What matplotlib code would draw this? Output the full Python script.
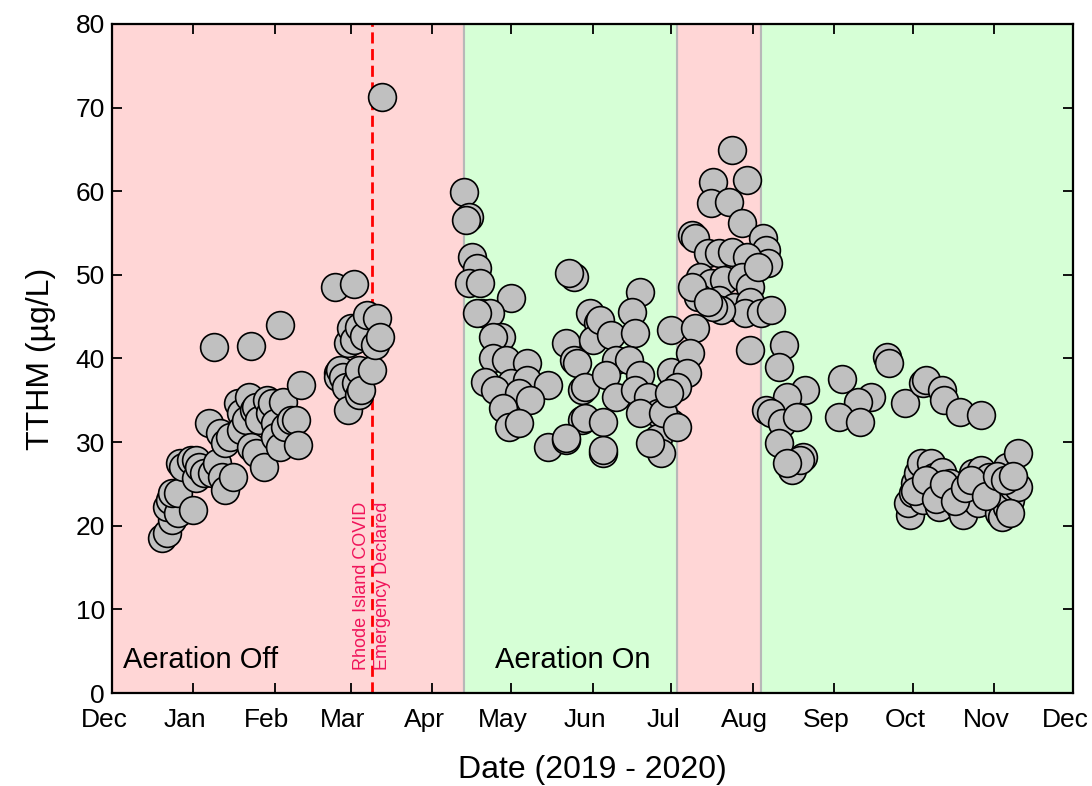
import matplotlib
matplotlib.use("Agg")
import matplotlib.pyplot as plt
import matplotlib.dates as mdates
import matplotlib.transforms as mtransforms
import pandas as pd

plt.rcParams["font.family"] = ["Liberation Sans", "DejaVu Sans"]

# TTHM samples (date, ug/L)
sample_dates = [
    # aeration off, Dec - Feb
    "2019-12-20", "2019-12-22", "2019-12-24", "2019-12-22", "2019-12-23", "2019-12-26",
    "2019-12-24", "2019-12-26", "2019-12-27", "2019-12-28", "2019-12-31", "2020-01-01",
    "2020-01-02", "2020-01-02", "2020-01-03", "2020-01-05", "2020-01-07", "2020-01-08",
    "2020-01-09", "2020-01-10", "2020-01-11", "2020-01-12", "2020-01-13", "2020-01-13",
    "2020-01-15", "2020-01-16", "2020-01-18", "2020-01-19", "2020-01-19", "2020-01-21",
    "2020-01-22", "2020-01-23", "2020-01-23", "2020-01-24", "2020-01-25", "2020-01-25",
    "2020-01-26", "2020-01-28", "2020-01-29", "2020-01-30", "2020-01-31", "2020-02-01",
    "2020-02-01", "2020-02-03", "2020-02-03", "2020-02-04", "2020-02-05", "2020-02-07",
    "2020-02-09", "2020-02-10", "2020-02-11",
    # late Feb - Mar
    "2020-02-24", "2020-02-25", "2020-02-25", "2020-02-26", "2020-02-27", "2020-02-28",
    "2020-02-29", "2020-02-29", "2020-03-01", "2020-03-02", "2020-03-02", "2020-03-03",
    "2020-03-04", "2020-03-04", "2020-03-04", "2020-03-05", "2020-03-06", "2020-03-07",
    "2020-03-09", "2020-03-10", "2020-03-11", "2020-03-12", "2020-03-13",
    # aeration on, Apr - Jul
    "2020-04-13", "2020-04-15", "2020-04-14", "2020-04-16", "2020-04-18", "2020-04-15",
    "2020-04-19", "2020-05-01", "2020-04-20", "2020-04-23", "2020-04-18", "2020-04-27",
    "2020-04-24", "2020-04-24", "2020-04-29", "2020-05-07", "2020-04-21", "2020-05-01",
    "2020-05-07", "2020-05-15", "2020-04-25", "2020-05-04", "2020-05-08", "2020-04-28",
    "2020-04-30", "2020-05-04", "2020-05-15", "2020-05-22", "2020-05-22", "2020-05-25",
    "2020-05-23", "2020-05-31", "2020-06-03", "2020-06-01", "2020-05-25", "2020-05-28",
    "2020-05-28", "2020-06-05", "2020-06-19", "2020-06-16", "2020-06-04", "2020-06-08",
    "2020-06-17", "2020-07-01", "2020-06-10", "2020-06-15", "2020-06-19", "2020-07-01",
    "2020-05-26", "2020-05-29", "2020-06-06", "2020-06-10", "2020-06-17", "2020-06-22",
    "2020-06-26", "2020-07-01", "2020-06-19", "2020-05-29", "2020-06-05", "2020-05-22",
    "2020-06-05", "2020-06-26", "2020-06-27", "2020-06-23", "2020-06-28",
    # aeration off, Jul - Aug
    "2020-07-24", "2020-07-17", "2020-07-30", "2020-07-16", "2020-07-23", "2020-07-28",
    "2020-07-09", "2020-07-10", "2020-08-05", "2020-08-06", "2020-08-07", "2020-07-15",
    "2020-07-19", "2020-07-24", "2020-07-30", "2020-07-12", "2020-07-16", "2020-07-21",
    "2020-07-28", "2020-07-31", "2020-07-11", "2020-07-19", "2020-07-25", "2020-07-31",
    "2020-07-29", "2020-08-04", "2020-08-08", "2020-07-20", "2020-07-17", "2020-07-10",
    "2020-07-08", "2020-07-31", "2020-08-03", "2020-07-09", "2020-07-15",
    # aeration on, Aug - Nov
    "2020-08-13", "2020-08-11", "2020-07-07", "2020-07-03", "2020-06-30", "2020-07-03",
    "2020-08-21", "2020-08-14", "2020-08-06", "2020-08-08", "2020-08-12", "2020-08-18",
    "2020-08-11", "2020-08-16", "2020-08-20", "2020-08-19", "2020-08-14",
    "2020-09-04", "2020-09-21", "2020-09-22", "2020-09-15", "2020-09-10", "2020-09-03",
    "2020-09-11", "2020-09-28", "2020-10-05", "2020-10-06", "2020-10-12", "2020-10-13",
    "2020-10-19", "2020-10-27",
    "2020-09-30", "2020-09-29", "2020-10-01", "2020-10-02", "2020-10-03", "2020-10-04",
    "2020-10-08", "2020-10-05", "2020-10-07", "2020-10-09", "2020-10-12", "2020-10-11",
    "2020-10-14", "2020-10-16", "2020-10-15", "2020-10-19", "2020-10-20", "2020-10-22",
    "2020-10-24", "2020-10-27", "2020-10-28", "2020-10-26", "2020-10-30", "2020-11-01",
    "2020-11-03", "2020-11-04", "2020-11-06", "2020-11-07", "2020-11-08", "2020-11-06",
    "2020-11-10", "2020-11-10", "2020-11-07", "2020-10-02", "2020-10-06", "2020-10-10",
    "2020-10-13", "2020-10-17", "2020-10-21", "2020-10-23", "2020-10-29", "2020-11-02",
    "2020-11-05", "2020-11-08",
]

tthm = [
    18.5, 19.1, 20.7, 22.2, 23.1, 21.5,
    23.9, 23.9, 27.5, 27.0, 27.9, 21.9,
    27.9, 25.7, 27.0, 26.3, 32.3, 26.3,
    41.4, 27.5, 31.1, 25.8, 29.9, 24.3,
    30.6, 25.8, 34.7, 33.5, 31.5, 32.6,
    35.4, 41.5, 29.4, 33.8, 28.7, 34.2,
    32.6, 27.0, 35.0, 33.5, 34.7, 32.3,
    30.6, 44.0, 29.4, 34.8, 31.8, 32.6,
    32.6, 29.7, 36.8,
    48.6, 38.3, 37.8, 38.6, 37.8, 36.6,
    41.9, 33.8, 43.6, 48.9, 42.2, 37.1,
    43.8, 38.6, 35.6, 36.2, 42.7, 45.2,
    38.6, 41.6, 44.8, 42.6, 71.3,
    59.9, 56.9, 56.6, 52.1, 50.8, 49.0,
    49.0, 47.2, 45.4, 45.4, 45.4, 42.6,
    42.6, 40.0, 39.8, 39.5, 37.2, 37.1,
    37.4, 36.8, 36.2, 35.9, 35.0, 34.1,
    31.8, 32.3, 29.4, 30.2, 41.9, 49.7,
    50.2, 45.4, 44.2, 42.2, 39.8, 36.2,
    32.6, 28.7, 48.0, 45.6, 44.6, 42.8,
    43.0, 43.4, 39.8, 39.8, 38.0, 38.4,
    39.5, 36.6, 38.0, 35.4, 36.2, 35.4,
    33.5, 32.3, 33.5, 32.9, 32.4, 30.5,
    29.0, 30.5, 28.7, 29.9, 33.5,
    64.9, 61.1, 61.3, 58.6, 58.7, 56.2,
    54.8, 54.4, 54.4, 53.0, 51.4, 52.6,
    52.6, 52.7, 52.1, 49.7, 49.0, 49.4,
    49.7, 48.5, 47.4, 47.0, 46.2, 46.8,
    45.4, 45.4, 45.8, 45.8, 46.2, 43.6,
    40.7, 41.0, 51.0, 48.6, 46.8,
    41.6, 39.0, 38.3, 36.6, 35.9, 31.8,
    36.2, 35.4, 33.8, 33.5, 32.3, 33.0,
    29.9, 26.7, 28.2, 27.9, 27.5,
    37.5, 40.2, 39.5, 35.4, 34.8, 33.0,
    32.4, 34.7, 37.1, 37.4, 36.2, 35.0,
    33.6, 33.2,
    21.3, 22.7, 23.9, 25.1, 26.3, 27.5,
    27.5, 23.1, 24.6, 25.8, 26.4, 22.2,
    23.9, 24.6, 25.1, 22.2, 21.3, 23.4,
    26.3, 26.7, 24.6, 22.7, 25.8, 23.9,
    21.5, 21.0, 22.2, 23.1, 24.6, 27.0,
    28.7, 24.6, 21.5, 24.2, 25.5, 23.2,
    25.0, 23.0, 24.5, 25.5, 23.5, 26.0,
    25.5, 26.0,
]

# aeration periods
off_starts = ["2019-12-01", "2020-07-03"]
off_ends = ["2020-04-13", "2020-08-04"]
on_starts = ["2020-04-13", "2020-08-04"]
on_ends = ["2020-07-03", "2020-12-01"]
covid_date = "2020-03-09"

x = pd.to_datetime(sample_dates)

fig = plt.figure(figsize=(10.92, 7.86), dpi=100)
ax = fig.add_axes([0.1026, 0.1183, 0.88, 0.8512])

for s, e in zip(off_starts, off_ends):
    ax.axvspan(pd.Timestamp(s), pd.Timestamp(e), facecolor="#FFD6D6",
               edgecolor="#B8B8B8", lw=1.5, zorder=0)
for s, e in zip(on_starts, on_ends):
    ax.axvspan(pd.Timestamp(s), pd.Timestamp(e), facecolor="#D6FFD6",
               edgecolor="#B8B8B8", lw=1.5, zorder=0)

ax.axvline(pd.Timestamp(covid_date), color="#FF0000", lw=2, ls=(0, (4, 2)), zorder=1)
ax.text(pd.Timestamp(covid_date), 2.7, "Rhode Island COVID\nEmergency Declared",
        rotation=90, ha="center", va="bottom", multialignment="left",
        color="#F0145A", fontsize=13, linespacing=1.35, zorder=2)

ax.scatter(x, tthm, s=400, facecolor="#C0C0C0", edgecolor="black",
           linewidth=1.2, zorder=3)

ax.text(pd.Timestamp("2019-12-05"), 3.9, "Aeration Off", fontsize=21,
        ha="left", va="center")
ax.text(pd.Timestamp("2020-04-25"), 3.9, "Aeration On", fontsize=21,
        ha="left", va="center")

ax.set_xlim(pd.Timestamp("2019-12-01"), pd.Timestamp("2020-12-01"))
ax.set_ylim(0, 80)
ax.set_yticks(range(0, 81, 10))
ax.xaxis.set_major_locator(mdates.MonthLocator())
ax.xaxis.set_major_formatter(mdates.DateFormatter("%b"))

ax.tick_params(direction="in", length=7, width=1.3, labelsize=19,
               top=True, right=True)
ax.tick_params(axis="x", pad=11)
ax.tick_params(axis="y", pad=5)
offset = mtransforms.ScaledTranslation(-0.08, 0, fig.dpi_scale_trans)
for lab in ax.get_xticklabels():
    lab.set_transform(lab.get_transform() + offset)
for sp in ax.spines.values():
    sp.set_linewidth(1.6)

ax.set_xlabel("Date (2019 - 2020)", fontsize=23, labelpad=16)
ax.set_ylabel("TTHM (\u00b5g/L)", fontsize=23, labelpad=14)

fig.savefig("out.png", dpi=100)
